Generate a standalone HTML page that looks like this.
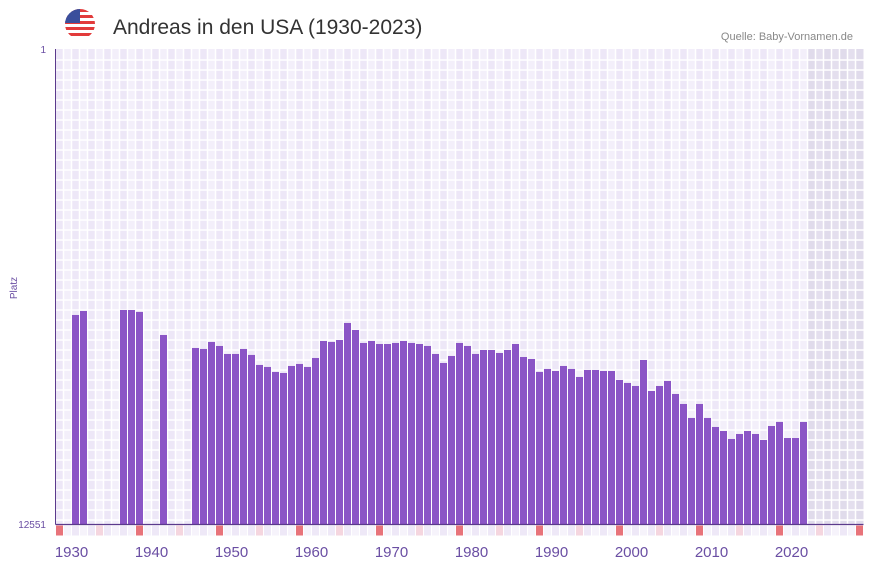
<!DOCTYPE html>
<html><head><meta charset="utf-8"><style>
body{margin:0;background:#fff;font-family:"Liberation Sans",sans-serif}
svg{display:block}
</style></head><body>
<svg id="c" width="873" height="567" xmlns="http://www.w3.org/2000/svg">
<defs><clipPath id="fc"><circle cx="80" cy="24" r="15"/></clipPath></defs>
<g clip-path="url(#fc)">
<rect x="65" y="9" width="30" height="30" fill="#fff"/>
<rect x="65" y="9" width="30" height="3" fill="#e23b3b"/><rect x="65" y="15" width="30" height="3" fill="#e23b3b"/>
<rect x="65" y="21" width="30" height="3" fill="#e23b3b"/><rect x="65" y="27" width="30" height="3" fill="#e23b3b"/>
<rect x="65" y="33" width="30" height="3" fill="#e23b3b"/>
<rect x="65" y="9" width="15" height="14" fill="#3a4f9c"/>
</g>
<text x="113" y="34" font-size="21" fill="#333">Andreas in den USA (1930-2023)</text>
<text x="853" y="40" font-size="11" fill="#888" text-anchor="end">Quelle: Baby-Vornamen.de</text>
<g id="grid"></g><g id="bars"></g><g id="axes"></g>
</svg>
<script>
const years=[1930,1931,1936,1937,1938,1941];
const ranks=[7021,6915,6889,6889,6941,7549];
const years2=[];for(let y=1945;y<=2021;y++)years2.push(y);
const ranks2=[7892,7918,7733,7839,8050,8050,7918,8076,8340,8393,8525,8552,8367,8314,8393,8156,7707,7733,7681,7232,7417,7760,7707,7787,7787,7760,7707,7760,7787,7839,8050,8288,8103,7760,7839,8050,7945,7945,8024,7945,7787,8130,8183,8525,8446,8499,8367,8446,8657,8472,8472,8499,8499,8736,8815,8895,8209,9027,8895,8762,9106,9370,9739,9370,9739,9977,10083,10294,10162,10083,10162,10320,9951,9845,10268,10268,9845];
const allYears=years.concat(years2), allRanks=ranks.concat(ranks2);
const xTicks=[1930,1940,1950,1960,1970,1980,1990,2000,2010,2020];
const firstYear=1928, nSlots=101, futureYear=2022, maxRank=12551;
const X0=55.5,SW=8,Y0=49,Y1=524.5;
const xs=y=>X0+(y-firstYear)*SW;
const ys=r=>Y0+(r-1)/(maxRank-1)*(Y1-Y0);
const NS="http://www.w3.org/2000/svg";
function mk(p,t,a){const e=document.createElementNS(NS,t);for(const k in a)e.setAttribute(k,a[k]);p.appendChild(e);return e;}
const g=document.getElementById('grid'),b=document.getElementById('bars'),ax=document.getElementById('axes');
for(let s=0;s<nSlots;s++){
 const yr=firstYear+s,fut=yr>=futureYear;
 const c=mk(g,'rect',{x:X0+s*SW,y:Y0,width:SW,height:Y1-Y0,fill:fut?(s%2?'#e4dfee':'#e0dbeb'):(s%2?'#f3effa':'#ede7f7')});
 
 
 const mc=(s%10===0)?'#e8737a':(s%10===5)?'#f5d6df':(s%2?'#f6f3fb':'#eee8f7');
 const m=mk(g,'rect',{x:X0+s*SW+0.5,y:525.5,width:SW-1,height:10,fill:mc});
 
 
}
for(let s=1;s<nSlots;s++)mk(g,'line',{x1:X0+s*SW,x2:X0+s*SW,y1:Y0,y2:Y1,stroke:'#fff','stroke-width':1.5});
for(let y=60;y<Y1;y+=10)mk(g,'line',{x1:X0,x2:X0+nSlots*SW,y1:y,y2:y,stroke:'#fff','stroke-width':1.5});
allYears.forEach((yr,i)=>{
 const r=mk(b,'rect',{x:xs(yr)+0.5,y:ys(allRanks[i]),width:SW-1,height:Y1-ys(allRanks[i]),fill:'#8b55c6'});
 
 
});
mk(ax,'line',{x1:X0,x2:X0,y1:Y0,y2:Y1,stroke:'#5b3a8c','stroke-width':1});
mk(ax,'line',{x1:X0,x2:X0+nSlots*SW,y1:Y1,y2:Y1,stroke:'#5b3a8c','stroke-width':1.2});
xTicks.forEach(t=>{
 const e=mk(ax,'text',{x:xs(t),y:557,'font-size':15,fill:'#6a4ea3','text-anchor':'middle'});
 e.textContent=t;
 
 
});
[[1,53],[maxRank,528]].forEach(([v,y])=>{
 const e=mk(ax,'text',{x:46,y:y,'font-size':10,fill:'#6a4ea3','text-anchor':'end'});
 e.textContent=v;
 
 
});
const yt=mk(ax,'text',{x:0,y:0,'font-size':10,fill:'#6a4ea3','text-anchor':'middle',transform:'translate(17,288) rotate(-90)'});
yt.textContent='Platz';


</script>
</body></html>
